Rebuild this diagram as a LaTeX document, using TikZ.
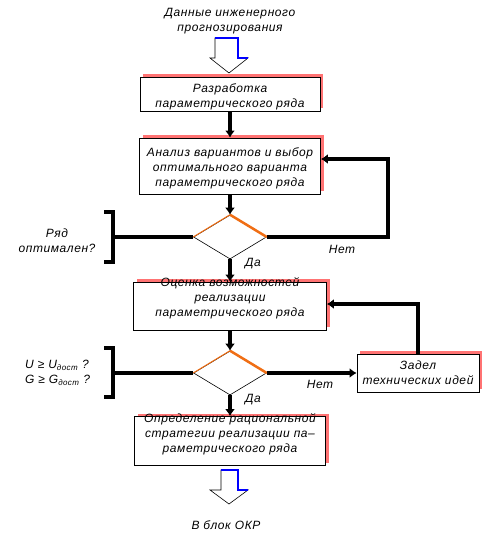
\documentclass[tikz,border=0pt]{standalone}
\usepackage{fontspec}
\setmainfont{Liberation Sans}[LetterSpace=5]
\usetikzlibrary{arrows.meta,shapes.geometric,shadows}
\definecolor{edgeorange}{RGB}{240,110,20}

\begin{document}
\begin{tikzpicture}[x=1pt,y=-1pt]
    \tikzset{box/.style = {shape=rectangle, draw, fill=white, line width=0.8pt, inner sep=0pt,
        general shadow={shadow xshift=3pt, shadow yshift=3pt, fill=red!55}}}
    \tikzset{txt/.style = {align=center, font=\fontsize{12}{15}\selectfont\itshape, inner sep=0pt}}
    \tikzset{cond/.style = {shape=diamond, draw, fill=white, line width=0.6pt, inner sep=0pt,
        minimum width=73pt, minimum height=44pt}}
    \tikzset{flow/.style = {draw, line width=4.5pt, -{Latex[length=7pt,width=10pt]}}}
    \tikzset{bar/.style = {draw, line width=4.5pt}}
    \tikzset{hollow/.style = {draw, fill=white, line width=0.6pt, line join=miter}}
    \tikzset{blueedge/.style = {draw=blue, line width=1.5pt}}

    \useasboundingbox (0,0) rectangle (484,539);

    % boxes
    \node[box, minimum width=180pt, minimum height=34pt] (b1) at (230,94) {};
    \node[box, minimum width=181pt, minimum height=56pt] (b2) at (230,166) {};
    \node[box, minimum width=193pt, minimum height=48pt] (b3) at (230,306) {};
    \node[box, minimum width=122pt, minimum height=38pt] (b4) at (418,373) {};
    \node[box, minimum width=191pt, minimum height=49pt] (b5) at (230,441) {};

    % conditions
    \node[cond] (d1) at (230,237) {};
    \node[cond] (d2) at (230,373) {};
    \draw[edgeorange, line width=1pt] (d1.west) -- (d1.north);
    \draw[edgeorange, line width=2.5pt] (d1.north) -- (d1.east);
    \draw[edgeorange, line width=1pt] (d2.west) -- (d2.north);
    \draw[edgeorange, line width=2.5pt] (d2.north) -- (d2.east);

    % texts
    \node[txt] (src) at (230,21) {Данные инженерного\\прогнозирования};
    \node[txt] (t1) at (230,97) {Разработка\\параметрического ряда};
    \node[txt] (t2) at (230,168) {Анализ вариантов и выбор\\оптимального варианта\\параметрического ряда};
    \node[txt] (t3) at (230,298) {Оценка возможностей\\реализации\\параметрического ряда};
    \node[txt] (t4) at (418,373) {Задел\\технических идей};
    \node[txt] (t5) at (230,434) {Определение рациональной\\стратегии реализации па--\\раметрического ряда};
    \node[txt] (dst) at (226,525) {В блок ОКР};
    \node[txt] (q1) at (57,241) {Ряд\\оптимален?};
    \node[txt, align=left, anchor=west] (q2) at (25,373) {U ≥ U\textsubscript{дост} ?\\G ≥ G\textsubscript{дост} ?};
    \node[txt] (n1) at (342,249) {Нет};
    \node[txt] (n2) at (320,384) {Нет};
    \node[txt] (y1) at (253,264) {Да};
    \node[txt] (y2) at (253,400) {Да};

    % hollow arrows
    \draw[hollow] (215,38) -- (238,38) -- (238,58) -- (248,58) -- (229,73) -- (210,58) -- (215,58) -- cycle;
    \draw[blueedge] (215,38) -- (238,38) -- (238,58) -- (248,58);
    \draw[hollow] (221,470) -- (238,470) -- (238,490) -- (248,490) -- (229,504) -- (210,490) -- (221,490) -- cycle;
    \draw[blueedge] (221,470) -- (238,470) -- (238,490) -- (248,490);

    % connectors
    \coordinate (loop1) at (388,159);
    \coordinate (k1) at (113,237);
    \coordinate (k2) at (113,373);
    \draw[flow] (b1.south) -- (b2.north);
    \draw[flow] (b2.south) -- (d1.north);
    \draw[flow] (d1.south) -- (b3.north);
    \draw[flow] (b3.south) -- (d2.north);
    \draw[flow] (d2.south) -- (b5.north);
    \draw[flow] (d1.east) -| (loop1) -- ([yshift=7pt]b2.east);
    \draw[flow] (d2.east) -- (b4.west);
    \draw[flow] (b4.north) |- ([yshift=2pt]b3.east);
    \draw[bar] (d1.west) -- (k1);
    \draw[bar] (d2.west) -- (k2);
    \draw[bar] (104,212) -- (113,212) -- (113,262) -- (104,262);
    \draw[bar] (104,348) -- (113,348) -- (113,397) -- (104,397);
\end{tikzpicture}
\end{document}
